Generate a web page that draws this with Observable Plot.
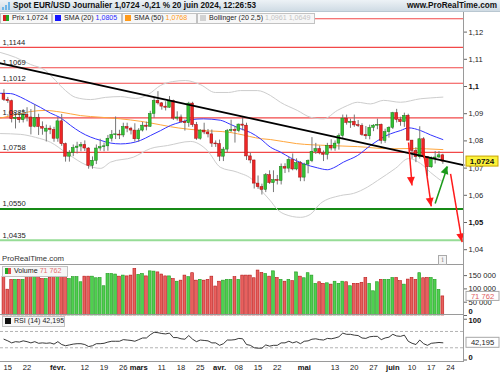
<!DOCTYPE html>
<html>
<head>
<meta charset="utf-8">
<script src="https://cdn.jsdelivr.net/npm/d3@7"></script>
<script src="https://cdn.jsdelivr.net/npm/@observablehq/plot@0.6"></script>
<style>
html,body{margin:0;padding:0;background:#fff;}
#chart{position:relative;width:500px;height:375px;overflow:hidden;background:#fff;font-family:"Liberation Sans",Arial,sans-serif;color:#222;}
.abs{position:absolute;}
.abs svg{display:block;}
#header{left:0;top:0;width:500px;height:12px;background:linear-gradient(#edf2f6,#cfdbe4);border-bottom:1px solid #b9c7d1;box-sizing:border-box;z-index:3;}
#title{left:13px;top:1px;font-weight:bold;font-size:8.2px;white-space:nowrap;color:#111;z-index:4;}
#site{right:3px;top:1px;font-weight:bold;font-size:8.2px;color:#111;z-index:4;}
.leg{position:absolute;height:11px;box-sizing:border-box;border:1px solid #c2c2c2;background:#f7f7f7;font-size:7.1px;line-height:9px;white-space:nowrap;padding-left:2px;z-index:3;color:#222;overflow:hidden;}
.sw{display:inline-block;width:6px;height:6px;vertical-align:-0.5px;margin-right:3px;}
.line{position:absolute;background:#9a9a9a;z-index:2;}
#wm{left:2px;top:254px;font-size:7.8px;color:#333;z-index:3;}
#info{left:438px;top:255px;width:7px;height:8px;border:1px solid #aaa;font-size:7px;line-height:8px;text-align:center;color:#888;background:#f4f4f4;z-index:3;font-family:"DejaVu Serif",serif;}
</style>
</head>
<body>
<div id="chart">
  <div id="header" class="abs"></div>
  <svg class="abs" style="left:2px;top:2px;z-index:4" width="9" height="8"><rect x="0" y="5" width="2" height="3" fill="#6fb6e8"/><rect x="3" y="3" width="2" height="5" fill="#6fb6e8"/><rect x="6" y="0" width="2" height="8" fill="#6fb6e8"/></svg>
  <div id="title" class="abs">Spot EUR/USD Journalier 1,0724 -0,21 % 20 juin 2024, 12:26:53</div>
  <div id="site" class="abs">www.ProRealTime.com</div>
  <div class="leg" style="left:0;top:13px;width:52px;"><span class="sw" style="background:linear-gradient(90deg,#d42020 50%,#22a822 50%)"></span>Prix 1,0724</div>
  <div class="leg" style="left:52px;top:13px;width:70px;"><span class="sw" style="background:#1414ff"></span>SMA (20) <span style="color:#2a2aff">1,0805</span></div>
  <div class="leg" style="left:122px;top:13px;width:75px;"><span class="sw" style="background:#ff9a1a"></span>SMA (50) <span style="color:#ff9a1a">1,0768</span></div>
  <div class="leg" style="left:197px;top:13px;width:118px;"><span class="sw" style="background:#d2d2d2"></span>Bollinger (20 2,5) <span style="color:#c4c4c4">1,0961 1,0649</span></div>
  <div id="wm" class="abs">ProRealTime.com</div>
  <div id="info" class="abs">i</div>
  <div class="leg" style="left:2px;top:266px;width:66px;"><span class="sw" style="background:linear-gradient(90deg,#22a822 50%,#e05050 50%)"></span>Volume <span style="color:#e57373">71 762</span></div>
  <div class="leg" style="left:2px;top:316px;width:63px;"><span class="sw" style="background:#111"></span>RSI (14) 42,195</div>
  <div class="line" style="left:0;top:264px;width:463px;height:1px;"></div>
  <div class="line" style="left:0;top:314px;width:463px;height:1px;"></div>
  <div class="line" style="left:0;top:361px;width:464px;height:1px;"></div>
  <div class="line" style="left:463px;top:12px;width:1px;height:350px;"></div>
</div>
<script>
// ---------- DATA ----------
const dates = ["2024-01-12","2024-01-15","2024-01-16","2024-01-17","2024-01-18","2024-01-19",
"2024-01-22","2024-01-23","2024-01-24","2024-01-25","2024-01-26",
"2024-01-29","2024-01-30","2024-01-31","2024-02-01","2024-02-02",
"2024-02-05","2024-02-06","2024-02-07","2024-02-08","2024-02-09",
"2024-02-12","2024-02-13","2024-02-14","2024-02-15","2024-02-16",
"2024-02-19","2024-02-20","2024-02-21","2024-02-22","2024-02-23",
"2024-02-26","2024-02-27","2024-02-28","2024-02-29","2024-03-01",
"2024-03-04","2024-03-05","2024-03-06","2024-03-07","2024-03-08",
"2024-03-11","2024-03-12","2024-03-13","2024-03-14","2024-03-15",
"2024-03-18","2024-03-19","2024-03-20","2024-03-21","2024-03-22",
"2024-03-25","2024-03-26","2024-03-27","2024-03-28","2024-03-29",
"2024-04-01","2024-04-02","2024-04-03","2024-04-04","2024-04-05",
"2024-04-08","2024-04-09","2024-04-10","2024-04-11","2024-04-12",
"2024-04-15","2024-04-16","2024-04-17","2024-04-18","2024-04-19",
"2024-04-22","2024-04-23","2024-04-24","2024-04-25","2024-04-26",
"2024-04-29","2024-04-30","2024-05-01","2024-05-02","2024-05-03",
"2024-05-06","2024-05-07","2024-05-08","2024-05-09","2024-05-10",
"2024-05-13","2024-05-14","2024-05-15","2024-05-16","2024-05-17",
"2024-05-20","2024-05-21","2024-05-22","2024-05-23","2024-05-24",
"2024-05-27","2024-05-28","2024-05-29","2024-05-30","2024-05-31",
"2024-06-03","2024-06-04","2024-06-05","2024-06-06","2024-06-07",
"2024-06-10","2024-06-11","2024-06-12","2024-06-13","2024-06-14",
"2024-06-17","2024-06-18","2024-06-19","2024-06-20"];

const open = [1.0972,1.0951,1.0946,1.0880,1.0885,1.0876,
1.0896,1.0886,1.0852,1.0884,1.0851,
1.0834,1.0845,1.0840,1.0808,1.0872,
1.0788,1.0742,1.0756,1.0774,1.0779,
1.0785,1.0772,1.0708,1.0727,1.0772,
1.0777,1.0780,1.0808,1.0822,1.0823,
1.0820,1.0851,1.0845,1.0838,1.0806,
1.0838,1.0856,1.0852,1.0899,1.0947,
1.0938,1.0926,1.0922,1.0946,1.0882,
1.0886,1.0870,1.0865,1.0937,1.0858,
1.0808,1.0838,1.0831,1.0824,1.0790,
1.0788,1.0742,1.0768,1.0836,1.0840,
1.0836,1.0860,1.0856,1.0743,1.0728,
1.0643,1.0630,1.0620,1.0674,1.0645,
1.0656,1.0653,1.0704,1.0698,1.0730,
1.0695,1.0718,1.0665,1.0713,1.0726,
1.0760,1.0770,1.0754,1.0749,1.0782,
1.0772,1.0790,1.0818,1.0882,1.0866,
1.0870,1.0857,1.0855,1.0822,1.0817,
1.0848,1.0856,1.0859,1.0800,1.0832,
1.0848,1.0902,1.0877,1.0869,1.0892,
1.0801,1.0763,1.0740,1.0806,1.0740,
1.0703,1.0735,1.0739,1.0747];

const high = [1.0988,1.0960,1.0950,1.0902,1.0906,1.0915,
1.0922,1.0915,1.0932,1.0898,1.0870,
1.0858,1.0855,1.0850,1.0886,1.0897,
1.0792,1.0764,1.0785,1.0795,1.0794,
1.0800,1.0775,1.0741,1.0785,1.0806,
1.0792,1.0820,1.0838,1.0888,1.0839,
1.0865,1.0865,1.0850,1.0863,1.0845,
1.0868,1.0869,1.0909,1.0956,1.0981,
1.0941,1.0944,1.0963,1.0950,1.0907,
1.0895,1.0877,1.0942,1.0942,1.0868,
1.0841,1.0865,1.0842,1.0840,1.0800,
1.0803,1.0776,1.0842,1.0876,1.0853,
1.0862,1.0885,1.0865,1.0755,1.0729,
1.0671,1.0641,1.0680,1.0690,1.0690,
1.0673,1.0715,1.0716,1.0740,1.0752,
1.0734,1.0724,1.0718,1.0730,1.0812,
1.0791,1.0781,1.0763,1.0791,1.0804,
1.0800,1.0826,1.0895,1.0895,1.0880,
1.0895,1.0875,1.0863,1.0853,1.0858,
1.0860,1.0880,1.0862,1.0843,1.0852,
1.0905,1.0916,1.0887,1.0902,1.0898,
1.0802,1.0775,1.0852,1.0812,1.0741,
1.0741,1.0761,1.0761,1.0751];

const low = [1.0945,1.0938,1.0866,1.0844,1.0865,1.0866,
1.0870,1.0822,1.0848,1.0820,1.0821,
1.0796,1.0823,1.0795,1.0795,1.0780,
1.0722,1.0722,1.0742,1.0752,1.0760,
1.0761,1.0696,1.0696,1.0713,1.0762,
1.0760,1.0762,1.0796,1.0805,1.0805,
1.0812,1.0830,1.0822,1.0796,1.0795,
1.0833,1.0837,1.0850,1.0883,1.0932,
1.0913,1.0910,1.0920,1.0875,1.0873,
1.0864,1.0836,1.0850,1.0850,1.0802,
1.0803,1.0823,1.0811,1.0776,1.0776,
1.0724,1.0724,1.0756,1.0831,1.0792,
1.0830,1.0837,1.0728,1.0716,1.0623,
1.0622,1.0601,1.0610,1.0640,1.0610,
1.0638,1.0638,1.0680,1.0683,1.0690,
1.0690,1.0650,1.0650,1.0679,1.0720,
1.0750,1.0749,1.0724,1.0730,1.0763,
1.0762,1.0766,1.0808,1.0858,1.0846,
1.0850,1.0849,1.0817,1.0805,1.0804,
1.0834,1.0841,1.0788,1.0791,1.0810,
1.0842,1.0866,1.0854,1.0850,1.0800,
1.0733,1.0720,1.0733,1.0735,1.0668,
1.0699,1.0715,1.0735,1.0714];

const close = [1.0951,1.0946,1.0880,1.0885,1.0876,1.0896,
1.0886,1.0852,1.0884,1.0851,1.0845,
1.0845,1.0840,1.0808,1.0872,1.0788,
1.0742,1.0756,1.0774,1.0779,1.0785,
1.0772,1.0708,1.0727,1.0772,1.0777,
1.0780,1.0808,1.0822,1.0823,1.0820,
1.0851,1.0845,1.0838,1.0806,1.0838,
1.0856,1.0852,1.0899,1.0947,1.0938,
1.0926,1.0922,1.0946,1.0882,1.0886,
1.0870,1.0865,1.0937,1.0858,1.0808,
1.0838,1.0831,1.0824,1.0790,1.0788,
1.0742,1.0768,1.0836,1.0840,1.0836,
1.0860,1.0856,1.0743,1.0728,1.0643,
1.0630,1.0620,1.0674,1.0645,1.0656,
1.0653,1.0704,1.0698,1.0730,1.0695,
1.0718,1.0665,1.0713,1.0726,1.0760,
1.0770,1.0754,1.0749,1.0782,1.0772,
1.0790,1.0818,1.0882,1.0866,1.0870,
1.0857,1.0855,1.0822,1.0817,1.0848,
1.0856,1.0859,1.0800,1.0832,1.0848,
1.0902,1.0877,1.0869,1.0892,1.0801,
1.0763,1.0740,1.0806,1.0740,1.0703,
1.0735,1.0739,1.0747,1.0724];

// volumes, in thousands
const volume = [144,97,134,134,134,134,
153,144,150,144,137,
137,141,144,150,144,
150,137,144,144,125,
146,146,146,140,141,
110,156,156,154,146,
150,147,150,175,153,
156,147,166,165,162,
154,147,147,137,127,
131,150,144,159,131,
134,131,134,146,109,
127,131,134,134,144,
134,150,150,150,140,
169,160,156,146,166,
141,134,127,134,129,
162,146,140,159,150,
119,125,119,121,116,
127,119,127,125,110,
119,119,123,141,119,
91,125,134,134,134,
141,141,129,116,135,
141,134,159,140,141,
141,134,96,71.762];

const rsi = [51,47,42,45,44,47,
45,42,45,41,42,
41,42,39,45,38,
35,37,39,40,40,
38,33,35,40,40,
41,44,46,46,46,
50,49,48,46,50,
54,54,62,68,67,
65,64,66,55,55,
52,51,60,51,45,
49,48,47,42,42,
36,40,49,49,50,
53,52,38,36,30,
29,29,37,34,36,
36,42,42,46,42,
45,40,46,47,51,
52,50,49,53,52,
54,57,66,63,63,
61,60,54,53,57,
58,58,50,54,56,
63,59,58,61,46,
41,38,49,40,36,
41,42,43,42.195];

// indicator curves: [bar index, price]
const sma20 = [[-1.9,1.0975],[0.7,1.0974],[3.3,1.0961],[5.9,1.0942],[8.5,1.0923],[11.1,1.0902],[13.7,1.0885],[16.3,1.0857],[18.9,1.0832],[21.5,1.0814],[24.1,1.0802],[26.7,1.0792],[29.3,1.0789],[31.9,1.0792],[34.5,1.0802],[37.1,1.0820],[39.7,1.0838],[42.3,1.0857],[44.9,1.0869],[47.5,1.0878],[50.8,1.0881],[55.2,1.0876],[57.8,1.0861],[60.4,1.0845],[63.0,1.0831],[65.6,1.0808],[68.2,1.0777],[70.8,1.0759],[73.4,1.0738],[76.8,1.0716],[80.4,1.0701],[83.0,1.0694],[84.6,1.0701],[87.2,1.0722],[90.8,1.0746],[94.2,1.0783],[97.6,1.0814],[99.4,1.0826],[102.0,1.0838],[104.1,1.0848],[107.2,1.0838],[109.8,1.0822],[113.0,1.0805]];
const sma50 = [[-1.9,1.0884],[3.3,1.0900],[5.9,1.0908],[9.8,1.0912],[13.7,1.0906],[18.9,1.0893],[24.1,1.0887],[29.3,1.0881],[34.5,1.0872],[39.7,1.0859],[42.3,1.0852],[50.8,1.0838],[57.3,1.0832],[59.7,1.0826],[65.9,1.0808],[68.2,1.0805],[75.0,1.0790],[83.3,1.0783],[90.8,1.0779],[99.4,1.0771],[104.6,1.0772],[113.0,1.0768]];
const bbUpper = [[-1.9,1.1125],[2.0,1.1107],[5.9,1.1081],[9.8,1.1059],[12.4,1.1022],[15.0,1.0985],[17.6,1.0960],[21.5,1.0952],[25.4,1.0960],[29.3,1.0963],[33.2,1.0956],[36.5,1.0971],[39.7,1.1004],[42.8,1.1018],[46.1,1.1022],[50.0,1.1007],[53.9,1.0978],[57.3,1.0978],[60.4,1.0985],[64.8,1.0985],[68.2,1.0967],[70.8,1.0942],[75.2,1.0912],[78.6,1.0887],[82.0,1.0881],[85.6,1.0912],[88.2,1.0930],[90.8,1.0942],[94.2,1.0936],[97.6,1.0949],[102.0,1.0942],[107.2,1.0955],[109.8,1.0958],[113.0,1.0961]];
const bbLower = [[-1.9,1.0827],[3.3,1.0824],[7.2,1.0813],[11.1,1.0795],[15.4,1.0754],[20.6,1.0710],[24.1,1.0699],[26.7,1.0722],[32.6,1.0740],[37.1,1.0772],[41.5,1.0783],[47.5,1.0798],[51.8,1.0765],[55.2,1.0703],[59.6,1.0685],[63.8,1.0654],[66.0,1.0615],[68.2,1.0580],[70.0,1.0548],[72.0,1.0530],[76.0,1.0519],[78.6,1.0530],[81.2,1.0570],[86.4,1.0599],[89.8,1.0607],[93.4,1.0630],[96.0,1.0654],[100.7,1.0699],[104.1,1.0735],[107.2,1.0717],[109.8,1.0684],[113.0,1.0649]];

const trendline = [[-1.9,1.1085],[118.36,1.0711]];
const arrowTails = [[104.1,1.0794],[107.8,1.0779],[111.0,1.0570],[115.0,1.0679]];
const arrowTips  = [[105.0,1.0636],[110.0,1.0559],[114.2,1.0706],[118.0,1.0428]];

const redLevels = [1.1249,1.1144,1.1069,1.1012,1.0885,1.0758];
const greenLevels = [1.0550,1.0435];
const levelTexts = [[1.1144,"1,1144"],[1.1069,"1,1069"],[1.1012,"1,1012"],[1.0885,"1,0885"],[1.0758,"1,0758"],[1.0550,"1,0550"],[1.0435,"1,0435"]];

const priceTicks = [1.04,1.05,1.06,1.07,1.08,1.09,1.10,1.11,1.12];
const priceTickLabels = ["1,04","1,05","1,06","1,07","1,08","1,09","1,1","1,11","1,12"];
const boldPriceTicks = [1.05,1.10];
const lastPrice = 1.0724, lastPriceLabel = "1,0724";

const volTicks = [0,50000,100000,150000];
const volTickLabels = ["0","50 000","100 000","150 000"];
const lastVolume = 71762, lastVolumeLabel = "71 762";

const rsiLevels = [70,30];
const rsiTicks = [0,100];
const lastRsi = 42.195, lastRsiLabel = "42,195";

const xTickIdx = [0,5,13,20,25,30,34,40,45,50,55,60,65,70,77,85,90,95,100,105,110,115];
const xTickLabels = ["15","22","févr.","12","19","26","mars","11","18","25","avr.","08","15","22","mai","13","20","27","juin","10","17","24"];
const monthLabels = ["févr.","mars","avr.","mai","juin"];

// ---------- BUILD ----------
const candles = dates.map((d,k)=>({i:k-1, date:d, o:open[k], h:high[k], l:low[k], c:close[k],
  v:volume[k]*1000, r:rsi[k], up:close[k]>=open[k]}));
const XDOM = [-1.896, 118.36];
const FONT = '"Liberation Sans",Arial,sans-serif';
const baseStyle = {fontFamily:FONT, fontSize:"7.6px", background:"transparent", overflow:"visible", color:"#222"};

function valueBox(val, label, o) {
  return (index, scales, values, dims) => {
    const y = scales.y(val);
    const x = dims.width - dims.marginRight + 3;
    const g = d3.create("svg:g");
    g.append("rect").attr("x", x).attr("y", y - o.h/2).attr("width", o.w).attr("height", o.h)
      .attr("fill", o.fill).attr("stroke", o.stroke).attr("stroke-width", 1);
    g.append("text").attr("x", x + o.w/2).attr("y", y).attr("dy", "0.36em").attr("text-anchor","middle")
      .attr("fill", o.color).attr("font-size", o.size).attr("font-weight", o.weight)
      .attr("font-family", FONT).text(label);
    return g.node();
  };
}
function arrowHeads(tails, tips) {
  return (index, scales) => {
    const g = d3.create("svg:g");
    tips.forEach((p,k) => {
      const t = tails[k];
      const x1 = scales.x(t[0]), y1 = scales.y(t[1]), x2 = scales.x(p[0]), y2 = scales.y(p[1]);
      const col = p[1] > t[1] ? "#1a9a1a" : "#ff1a1a";
      const a = Math.atan2(y2-y1, x2-x1), L = 8, W = 4;
      const bx = x2 - L*Math.cos(a), by = y2 - L*Math.sin(a);
      g.append("path")
        .attr("d", `M${x2},${y2}L${bx - W*Math.sin(a)},${by + W*Math.cos(a)}L${bx + W*Math.sin(a)},${by - W*Math.cos(a)}Z`)
        .attr("fill", col);
    });
    return g.node();
  };
}
function place(node, top, z) {
  const d = document.createElement("div");
  d.className = "abs"; d.style.left = "0px"; d.style.top = top + "px"; d.style.zIndex = z || 1;
  d.appendChild(node);
  document.getElementById("chart").appendChild(d);
}

// main price panel
const main = Plot.plot({
  width:500, height:252, marginTop:0, marginBottom:0, marginLeft:0, marginRight:37,
  x:{domain:XDOM, axis:null},
  y:{domain:[1.034559,1.127206], axis:null},
  style:baseStyle,
  marks:[
    Plot.ruleY(redLevels,{stroke:"#f24848", strokeWidth:1.2}),
    Plot.ruleY([greenLevels[0]],{stroke:"#168a16", strokeWidth:2}),
    Plot.ruleY([greenLevels[1]],{stroke:"#96dc96", strokeWidth:2}),
    Plot.line(bbUpper,{x:d=>d[0], y:d=>d[1], stroke:"#cdcdcd", strokeWidth:1, curve:"monotone-x"}),
    Plot.line(bbLower,{x:d=>d[0], y:d=>d[1], stroke:"#cdcdcd", strokeWidth:1, curve:"monotone-x"}),
    Plot.line(sma50,{x:d=>d[0], y:d=>d[1], stroke:"#ffa63c", strokeWidth:1, curve:"monotone-x"}),
    Plot.line(sma20,{x:d=>d[0], y:d=>d[1], stroke:"#3434ff", strokeWidth:1, curve:"monotone-x"}),
    Plot.ruleX(candles,{x:"i", y1:"l", y2:"h", stroke:"#777", strokeWidth:1}),
    Plot.rect(candles,{
      x1:d=>d.i-0.36, x2:d=>d.i+0.36,
      y1:d=>Math.min(d.o,d.c) - Math.max(0, 0.00016 - Math.abs(d.o-d.c)/2),
      y2:d=>Math.max(d.o,d.c) + Math.max(0, 0.00016 - Math.abs(d.o-d.c)/2),
      fill:d=>d.up?"#33c233":"#ee2626", stroke:d=>d.up?"#157a15":"#9c0c0c", strokeWidth:0.5}),
    Plot.line(trendline,{x:d=>d[0], y:d=>d[1], stroke:"#000", strokeWidth:2}),
    Plot.link(arrowTails.map((t,k)=>[t,arrowTips[k]]),{x1:d=>d[0][0], y1:d=>d[0][1], x2:d=>d[1][0], y2:d=>d[1][1],
      stroke:d=>d[1][1]>d[0][1]?"#1a9a1a":"#ff1a1a", strokeWidth:1.5}),
    arrowHeads(arrowTails, arrowTips),
    Plot.text(levelTexts,{y:d=>d[0], text:d=>d[1], frameAnchor:"left", textAnchor:"start", dx:2, dy:-5, fill:"#222"}),
    Plot.axisY(priceTicks,{anchor:"right", tickSize:3, tickFormat:()=>"", label:null, stroke:"#666"}),
    Plot.text(priceTicks.filter(t=>!boldPriceTicks.includes(t)),{y:d=>d, text:d=>priceTickLabels[priceTicks.indexOf(d)], frameAnchor:"right", textAnchor:"start", dx:5, fill:"#222"}),
    Plot.text(boldPriceTicks,{y:d=>d, text:d=>priceTickLabels[priceTicks.indexOf(d)], frameAnchor:"right", textAnchor:"start", dx:5, fill:"#111", fontWeight:"bold"}),
    valueBox(lastPrice, lastPriceLabel, {w:32, h:10, fill:"#fbf23a", stroke:"#c9a400", color:"#111", size:"8px", weight:"bold"})
  ]
});
place(main, 12, 1);

// volume panel
const vol = Plot.plot({
  width:500, height:50, marginTop:0, marginBottom:0, marginLeft:0, marginRight:37,
  x:{domain:XDOM, axis:null},
  y:{domain:[0,187970], axis:null},
  style:baseStyle,
  marks:[
    Plot.rect(candles,{x1:d=>d.i-0.36, x2:d=>d.i+0.36, y1:0, y2:"v",
      fill:d=>d.up?"#4fd04f":"#e8605e", stroke:d=>d.up?"#1f9a1f":"#b81818", strokeWidth:0.6}),
    Plot.axisY(volTicks,{anchor:"right", tickSize:3, tickFormat:()=>"", label:null, stroke:"#666"}),
    Plot.text(volTicks.slice(1),{y:d=>d, text:d=>volTickLabels[volTicks.indexOf(d)], frameAnchor:"right", textAnchor:"start", dx:5, fill:"#222"}),
    Plot.text([0],{y:d=>d, text:()=>volTickLabels[0], frameAnchor:"right", textAnchor:"start", dx:5, dy:-4, fill:"#111", fontWeight:"bold"}),
    valueBox(lastVolume, lastVolumeLabel, {w:33, h:9, fill:"#fff", stroke:"#a8a8a8", color:"#e06060", size:"7.6px", weight:"normal"})
  ]
});
place(vol, 265, 1);

// RSI panel + date axis
const rsiPlot = Plot.plot({
  width:500, height:60, marginTop:0, marginBottom:13, marginLeft:0, marginRight:37,
  x:{domain:XDOM, axis:null},
  y:{domain:[-6.13,109.2], axis:null},
  style:baseStyle,
  marks:[
    Plot.ruleY(rsiLevels,{stroke:"#a0a0a0", strokeDasharray:"3,2", strokeWidth:0.8}),
    Plot.line(candles,{x:"i", y:"r", stroke:"#222", strokeWidth:0.9}),
    Plot.axisY(rsiTicks,{anchor:"right", tickSize:3, tickFormat:()=>"", label:null, stroke:"#666"}),
    Plot.text([100],{y:d=>d, text:()=>"100", frameAnchor:"right", textAnchor:"start", dx:5, dy:1, fill:"#111", fontWeight:"bold"}),
    Plot.text([0],{y:d=>d, text:()=>"0", frameAnchor:"right", textAnchor:"start", dx:5, dy:-2, fill:"#111", fontWeight:"bold"}),
    valueBox(lastRsi, lastRsiLabel, {w:33, h:10, fill:"#fff", stroke:"#a8a8a8", color:"#222", size:"7.6px", weight:"normal"}),
    Plot.text(xTickIdx.filter((d,k)=>!monthLabels.includes(xTickLabels[k])),{x:d=>d, text:d=>xTickLabels[xTickIdx.indexOf(d)], frameAnchor:"bottom", dy:7, fill:"#222"}),
    Plot.text(xTickIdx.filter((d,k)=>monthLabels.includes(xTickLabels[k])),{x:d=>d, text:d=>xTickLabels[xTickIdx.indexOf(d)], frameAnchor:"bottom", dy:7, fill:"#111", fontWeight:"bold"})
  ]
});
place(rsiPlot, 315, 1);
</script>
</body>
</html>
